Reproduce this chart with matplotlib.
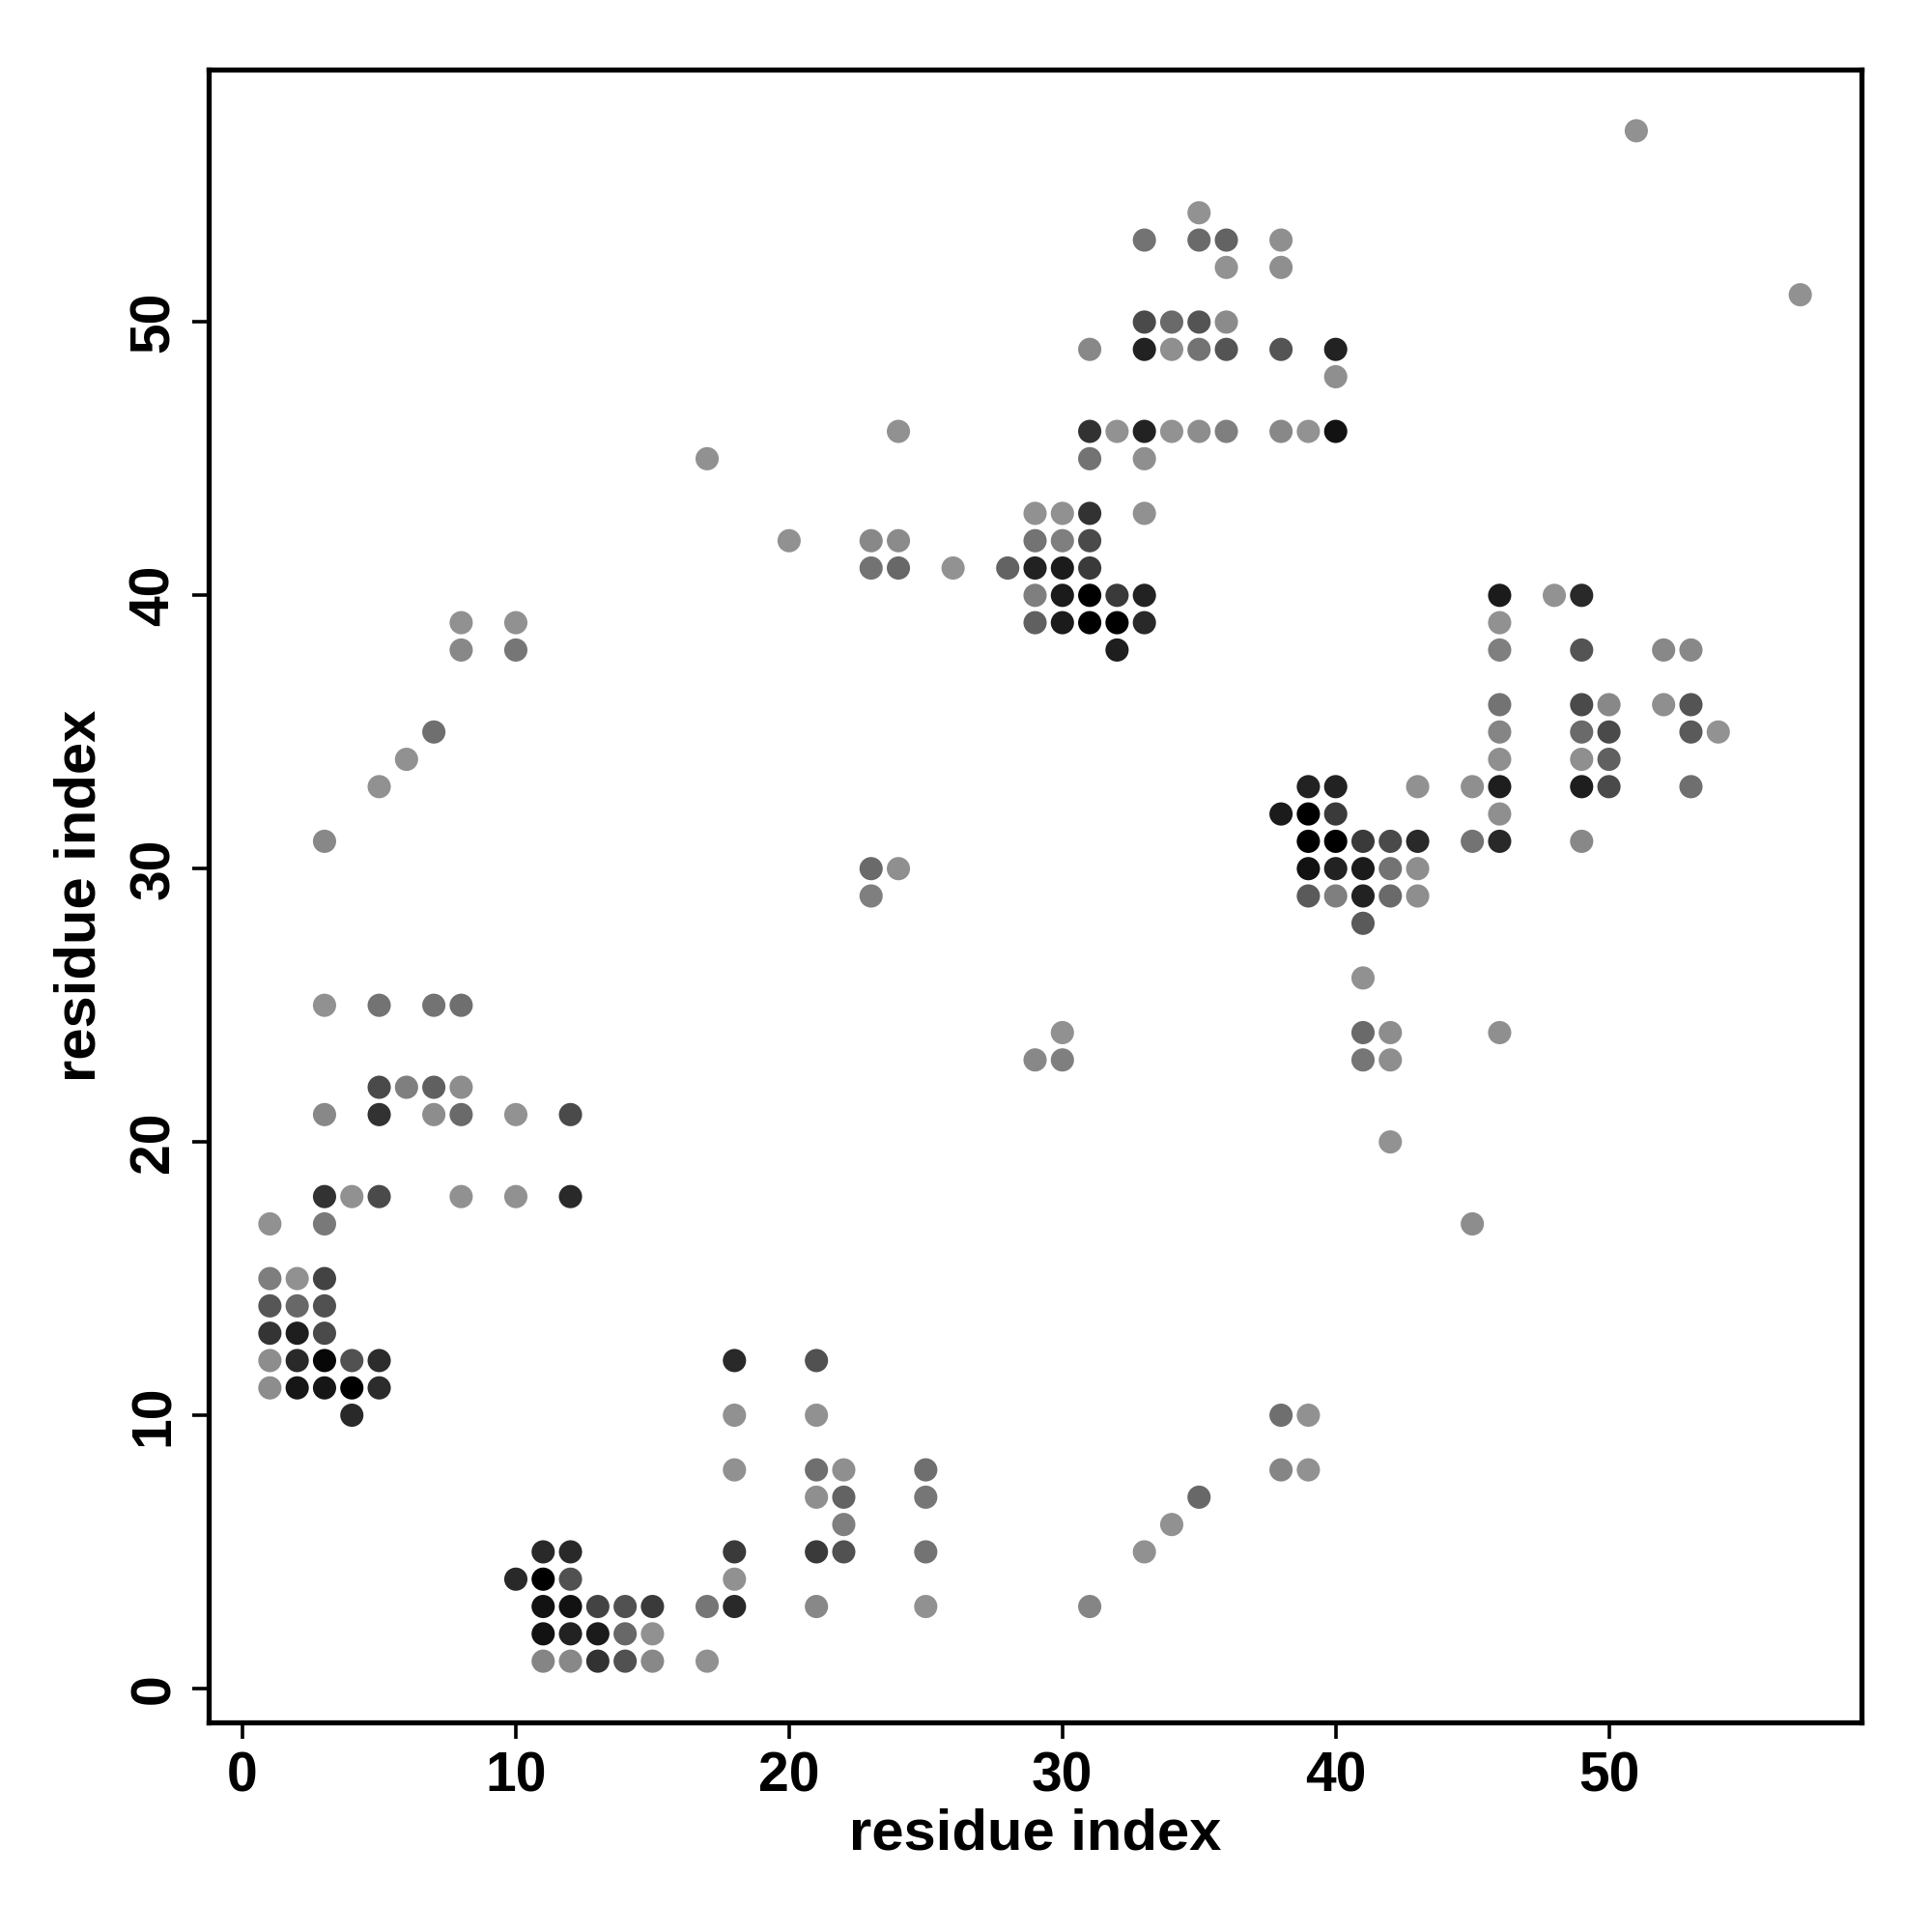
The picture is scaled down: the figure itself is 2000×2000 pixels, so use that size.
import matplotlib
matplotlib.use("Agg")
import matplotlib.pyplot as plt

# contact map: residue i, residue j, contact strength (0 = weak/light, 1 = strong/dark)
res_i = [1, 3, 1, 2, 3, 1, 2, 3, 1, 2, 3, 1, 2, 3, 4, 5, 1, 2, 3, 4, 5, 4,
         3, 4, 5, 8, 10, 12, 3, 5, 7, 8, 10, 12, 5, 6, 7, 8, 3, 5, 7, 8,
         3, 5, 6, 7, 8, 10, 8, 10,
         10, 11, 12, 11, 12, 11, 12, 13, 14, 15, 11, 12, 13, 14, 15, 11, 12, 13, 14, 15,
         17, 18, 17, 18, 18, 18, 18, 18, 21, 21, 21, 21, 21, 21, 22, 22, 22, 22,
         25, 25, 25, 25,
         31, 33, 34, 35, 38, 39, 38, 39, 45,
         17, 20, 23, 24, 23, 24, 26, 24, 23, 24, 23, 29, 30, 30,
         29, 30, 31, 33, 29, 30, 31, 28, 29, 30, 31, 29, 30, 31, 32, 33,
         29, 30, 31, 32, 33, 32,
         31, 33, 31, 32, 33, 34, 35, 36, 38, 39, 40, 40, 31, 33, 34, 35, 36, 38, 40,
         33, 34, 35, 36, 36, 38, 33, 35, 36, 38, 35,
         39, 40, 43, 38, 39, 40, 39, 40, 41, 42, 43, 39, 40, 41, 42, 43,
         39, 40, 41, 42, 43, 41, 41, 41, 42, 41, 42, 42,
         46, 48, 49, 46, 46, 49, 52, 53, 46, 49, 50, 52, 53, 46, 49, 50, 53, 54,
         46, 49, 50, 45, 46, 49, 50, 53, 46, 45, 46, 49, 46,
         51, 57]
res_j = [17, 17, 15, 15, 15, 14, 14, 14, 13, 13, 13, 12, 12, 12, 12, 12, 11, 11, 11, 11, 11, 10,
         18, 18, 18, 18, 18, 18, 21, 21, 21, 21, 21, 21, 22, 22, 22, 22, 25, 25, 25, 25,
         31, 33, 34, 35, 38, 38, 39, 39,
         4, 5, 5, 4, 4, 3, 3, 3, 3, 3, 2, 2, 2, 2, 2, 1, 1, 1, 1, 1,
         3, 3, 1, 4, 5, 8, 10, 12, 3, 5, 7, 8, 10, 12, 5, 6, 7, 8,
         3, 5, 7, 8,
         3, 5, 6, 7, 8, 8, 10, 10, 17,
         45, 42, 42, 42, 41, 41, 41, 46, 30, 30, 29, 23, 23, 24,
         43, 43, 43, 43, 42, 42, 42, 41, 41, 41, 41, 40, 40, 40, 40, 40,
         39, 39, 39, 39, 39, 38,
         45, 45, 46, 46, 46, 46, 46, 46, 46, 46, 46, 48, 49, 49, 49, 49, 49, 49, 49,
         50, 50, 50, 50, 52, 52, 53, 53, 53, 53, 54,
         33, 33, 33, 32, 32, 32, 31, 31, 31, 31, 31, 30, 30, 30, 30, 30,
         29, 29, 29, 29, 29, 28, 26, 24, 24, 23, 23, 20,
         40, 40, 40, 39, 38, 38, 38, 38, 36, 36, 36, 36, 36, 35, 35, 35, 35, 35,
         34, 34, 34, 33, 33, 33, 33, 33, 32, 31, 31, 31, 24,
         57, 51]
strength = [0.02, 0.18, 0.15, 0.02, 0.55, 0.42, 0.3, 0.45, 0.65, 0.8, 0.5, 0.05, 0.72, 0.95, 0.45, 0.7, 0.05, 0.85, 0.85, 1.0, 0.7, 0.72,
            0.66, 0.02, 0.5, 0.02, 0.02, 0.72, 0.08, 0.66, 0.05, 0.28, 0.01, 0.5, 0.5, 0.14, 0.35, 0.05, 0.02, 0.22, 0.22, 0.25,
            0.08, 0.02, 0.02, 0.25, 0.08, 0.2, 0.02, 0.02,
            0.72, 0.72, 0.72, 1.0, 0.45, 0.88, 0.88, 0.55, 0.45, 0.61, 0.88, 0.77, 0.82, 0.3, 0.02, 0.1, 0.08, 0.66, 0.45, 0.08,
            0.2, 0.72, 0.02, 0.02, 0.61, 0.02, 0.02, 0.72, 0.08, 0.61, 0.03, 0.25, 0.02, 0.45, 0.45, 0.14, 0.33, 0.03,
            0.02, 0.22, 0.2, 0.25,
            0.1, 0.02, 0.02, 0.3, 0.1, 0.02, 0.25, 0.02, 0.05,
            0.02, 0.02, 0.08, 0.06, 0.22, 0.3, 0.01, 0.02, 0.28, 0.03, 0.14, 0.08, 0.14, 0.02,
            0.02, 0.02, 0.66, 0.02, 0.22, 0.14, 0.5, 0.33, 0.77, 0.82, 0.61, 0.14, 0.82, 1.0, 0.61, 0.77,
            0.35, 0.82, 1.0, 1.0, 0.72, 0.8,
            0.22, 0.03, 0.66, 0.01, 0.77, 0.01, 0.05, 0.14, 0.08, 0.01, 0.88, 0.03, 0.08, 0.77, 0.03, 0.22, 0.43, 0.43, 0.77,
            0.5, 0.28, 0.43, 0.06, 0.01, 0.03, 0.22, 0.28, 0.33, 0.03, 0.01,
            0.77, 0.77, 0.02, 0.82, 1.0, 0.61, 1.0, 1.0, 0.61, 0.5, 0.72, 0.88, 0.77, 0.82, 0.22, 0.04,
            0.39, 0.14, 0.77, 0.28, 0.04, 0.39, 0.02, 0.28, 0.05, 0.2, 0.04, 0.01,
            0.82, 0.01, 0.72, 0.02, 0.14, 0.43, 0.08, 0.08, 0.22, 0.5, 0.08, 0.03, 0.43, 0.1, 0.28, 0.5, 0.39, 0.01,
            0.03, 0.03, 0.35, 0.03, 0.8, 0.8, 0.5, 0.25, 0.03, 0.22, 0.72, 0.08, 0.03,
            0.02, 0.02]

ticks = [0, 10, 20, 30, 40, 50]
xlabel = "residue index"
ylabel = "residue index"

plt.rcParams['font.family'] = ['Liberation Sans', 'DejaVu Sans']
fig = plt.figure(figsize=(20, 20), dpi=100)
ax = fig.add_axes([0.108, 0.1085, 0.8555, 0.8555])

colors = [(0.58 * (1 - s),) * 3 for s in strength]
ax.scatter(res_i, res_j, s=300, c=colors, linewidths=0, zorder=3)

lo = 1 - 0.04 * 56
hi = 57 + 0.04 * 56
ax.set_xlim(lo, hi)
ax.set_ylim(lo, hi)
ax.set_xticks(ticks)
ax.set_yticks(ticks)
ax.set_xticklabels([str(t) for t in ticks], fontsize=41, fontweight='bold')
ax.set_yticklabels([str(t) for t in ticks], fontsize=41, fontweight='bold',
                   rotation=90, va='center')
ax.tick_params(direction='out', length=12, width=2.6, pad=9)
for sp in ax.spines.values():
    sp.set_linewidth(3.8)
ax.set_xlabel(xlabel, fontsize=43, fontweight='bold', labelpad=4)
ax.set_ylabel(ylabel, fontsize=43, fontweight='bold', labelpad=16)

fig.savefig("out.png", dpi=100, facecolor='white')
